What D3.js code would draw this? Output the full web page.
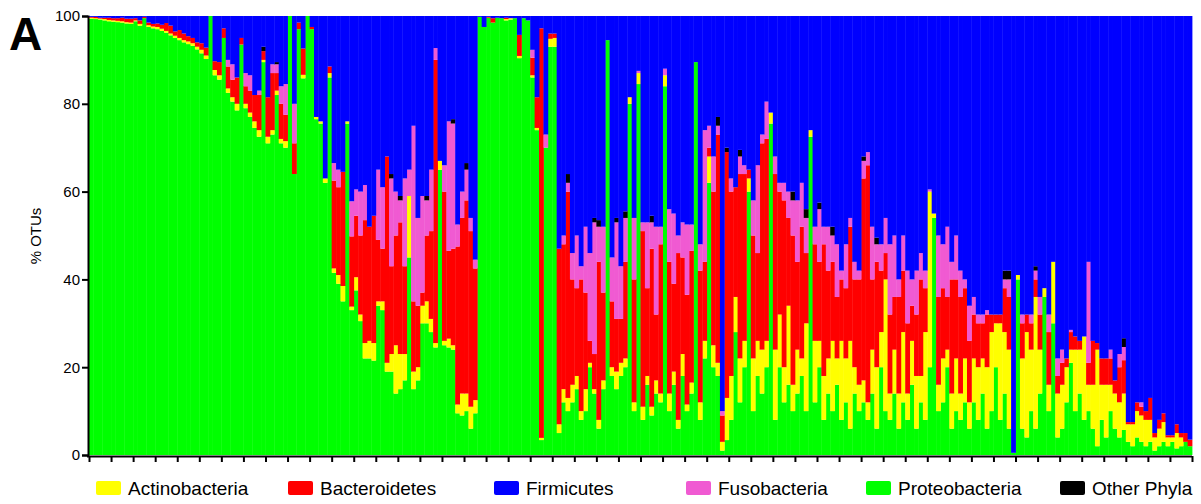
<!DOCTYPE html>
<html><head><meta charset="utf-8">
<script src="https://cdn.jsdelivr.net/npm/d3@7"></script>
<style>body{margin:0;background:#fff}svg text{font-family:"Liberation Sans",Arial,sans-serif}</style>
</head><body><svg id="c" width="1201" height="504"></svg>
<script>
const proteobacteria = [
99.4,99.3,99.2,99,98.8,98.7,98.6,98.5,98.3,98.2,
98.8,97.8,99.5,97.5,97.2,97,96.6,96.2,95.6,95,
94.5,94,93.6,93.2,92.4,91.5,90.2,100,86.5,85.5,
95,82.5,80.5,78.5,93.5,79,77,74.5,72.5,89.5,
71,73,82,71,70,100,64,97,85.8,100,
97,76.5,75.5,62,86,41.5,39,35,75.5,33,
37.5,30.5,22,22,21.5,34,33,19,19,14,
15,17,45,15,17,30,30,28,24.5,65,
25,24.5,24,9.5,9,10,6,9.5,99.8,97.5,
99.6,98.5,99.6,99.5,99,99.2,99.5,90.4,99.5,99,
86,74,3.4,70,93,93,5,12,10,12,
15,8,10,20,14,6,15,94.5,18,15,
18,20,80,10,84.5,8,16,9,14,12,
84,10,16,6,18,10,14,89.5,8,22,
62,20,18,1,3.4,8,28,12,20,60,
10,18,14,20,75.5,8,20,12,16,10,
14,18,10,72.5,12,20,8,14,10,16,
8,12,6,14,10,12,8,14,6,20,
10,8,14,6,12,8,16,6,12,8,
20,54,10,12,20,6,10,8,12,6,
12,8,14,6,10,20,8,14,6,0.5,
40,6,4,10,6,14,36,10,30,4,
6,12,21,10,14,8,10,6,2,8,
4,10,6,4,5.7,3,2,4,3,2,
3,1,2,3,2,3,1.5,2,3,2];
const actinobacteria = [
.2,.2,.2,.3,.3,.3,.3,.3,.3,.3,
.2,.4,0,.4,.4,.5,.5,.4,.4,.5,
.5,.5,.6,.6,.6,.8,.8,0,1.2,1,
0,1,1,1.5,0,1,1,1.5,1.5,.5,
1.5,1,1,1,1.5,0,0,0,.8,0,
0,.5,.5,1,1,1,2,3.5,.5,.8,
3,1.5,3.5,4,4,1,2,2,4,11,
8,6,14,4,3,4,5,3,1,2,
1,2,1,2,5,4,5,3,0,0,
0,0,0,0,.3,.3,0,.5,0,0,
.5,.5,.5,0,1.8,2,2,3,3,4,
3,2,5,1,1,2,2,0,2,4,
3,2,1.5,2,2.5,3,2,2,3,2,
2.5,4,3,2,5,1.5,2.5,0,4,4,
6,5,3,2,9.6,10,8,10,6,3,
12,8,10,6,2.5,16,12,8,18,6,
10,4,20,1.5,14,6,10,8,16,6,
18,10,20,6,6,5,4,10,14,8,
30,6,10,8,16,6,10,12,6,20,
40,1,6,10,4,8,12,6,10,6,
10,12,8,14,18,10,22,14,18,0,
1,16,24,14,30,10,2,6,14,10,
10,8,3,14,10,19,6,10,22,8,
12,6,8,8,8.3,4,5,6,6,6,
5,3,4,4.5,2,1,3.5,2,0,0];
const bacteroidetes = [
.2,.3,.2,.3,.5,.5,.6,.8,.8,.9,
.5,.8,.3,.6,.6,.8,.9,1.8,1.8,1,
1.8,1.5,1.2,1.2,1,1.5,1.8,0,2,3,
2.2,5,4,6,1.5,4,5,6,8,2,
9,13,4,8,6,0,7,1.5,6,0,
.5,0,0,0,1.5,20,20,26,0,16,
14,18,28,26,29,14,12,47,20,25,
30,20,0,16,14,3,15,20,64.5,0,
34,20,22,36,40,44,40,30,0,0,
.2,1,0,0,.3,0,0,4.8,0,0,
4,7,93.3,0,1.2,1,40,33,47,24,
20,30,22,5,8,36,20,0,15,12,
10,22,0,28,0,40,20,36,15,34,
0,30,20,38,22,25,30,0,30,18,
2,35,52,6,56,42,25,42,38,2,
28,20,47,46,0,40,28,38,20,34,
20,30,16,0,22,18,30,20,18,14,
14,16,26,20,24,46,54,16,24,14,
6,18,12,22,14,16,8,14,22,10,
0,0,20,16,12,26,18,22,16,14,
10,10,8,12,4,2,2,10,12,0,
0,8,4,6,4,8,0,12,0,4,
5,2,4,3,2,0,5,10,1.5,6,
6,6,3,8,7.6,.5,.5,2,2,2,
5,1,2,2,.5,.5,2,1,2,1.5];
const fusobacteria = [
0,0,0,0,0,0,0,0,0,0,
0,0,0,0,0,0,0,0,0,0,
0,0,0,0,0,0,0,0,0,0,
0,1.5,3.5,0,0,3,3.5,0,1,0,
0,2,2,4,7,0,9,0,0,0,
0,0,0,0,0,4,4,0,0,8,
6,10,8,0,0,16,14,0,20,10,
5,20,6,40,20,22,8,14,2.7,0,
6,29.5,28.5,5,6,7,3,2,0,0,
0,0,0,0,0,0,0,0,0,0,
1.8,0,0,3,0,0,0,2,2,6,
12,3,15,20,30,8,15,0,10,22,
12,10,0,14,.5,2,15,6,20,4,
1.5,12,16,4,8,16,6,0,6,30,
5,8,2,1,0,3,0,4,2,0,
8,20,2,8.5,0,4,2,4,6,8,
14,10,8,0,4,12,4,10,6,12,
2,10,2,4,2,4,3,12,4,6,
8,16,14,4,8,12,6,10,6,4,
.5,0,14,10,16,4,10,6,2,8,
4,2,2,1,0,0,0,2,4,0,
0,2,0,2,2,4,0,4,0,4,
3,0,.5,0,0,0,23,0,0,0,
0,2,0,3,3,0,0,0,1,0,
0,0,0,0,0,0,0,0,0,0];
const otherPhyla = [
0,0,0,0,0,0,0,0,0,0,
0,0,0,0,0,0,0,0,0,0,
0,0,0,0,0,0,0,0,0,0,
0,0,0,0,0,0,0,0,0,1,
0,0,.5,0,0,0,0,0,0,0,
0,0,0,0,0,0,0,0,0,0,
0,0,0,0,0,0,0,0,1,0,
1,0,0,0,0,0,1,0,0,0,
0,0,1,0,0,1.5,0,0,0,0,
0,0,0,0,0,0,0,0,0,0,
0,0,0,0,0,0,0,0,2,0,
0,0,0,0,1,1.5,0,0,0,1,
0,1.5,0,0,0,0,0,1.5,0,0,
0,0,0,0,0,0,0,0,0,0,
0,0,2,0,1,0,0,1.5,0,0,
0,0,0,0,0,0,0,0,0,2,
0,0,2,0,0,1.5,0,0,2,0,
0,0,0,0,0,1,0,0,1.5,0,
0,0,0,0,0,0,0,0,0,0,
0,0,0,0,0,0,0,0,0,0,
0,0,0,0,0,0,0,2,2,0,
0,0,0,0,1,0,0,0,0,0,
0,0,0,0,0,0,0,0,0,0,
0,0,0,0,2,0,0,0,0,0,
0,0,0,0,0,0,0,0,0,0];
const firmicutes = [
.2,.2,.4,.4,.4,.5,.5,.4,.6,.6,
.5,1,.2,1.5,1.8,1.7,2,1.6,2.2,3.5,
3.2,4,4.6,5,6,6.2,7.2,0,10.3,10.5,
2.8,10,11,14,5,13,13.5,18,17,7,
18.5,11,10.5,16,15.5,0,20,1.5,7.4,0,
2.5,23,24,37,11.5,33.5,35,35.5,24,42.2,
39.5,40,38.5,48,45.5,35,39,32,36,40,
41,37,35,25,46,41,41,35,7.3,33,
34,24,23.5,47.5,40,33.5,46,55.5,.2,2.5,
.2,.5,.4,.5,.4,.5,.5,4.3,.5,1,
7.7,18.5,2.8,27,4,4,53,50,36,54,
50,57,48,54,46,46.5,48,5.5,55,46,
57,44.5,18.5,46,12.5,47,47,45.5,48,48,
12,44,45,50,47,47.5,47.5,10.5,52,26,
25,32,23,90,30,37,39,30.5,34,35,
42,34,27,19.5,22,32,38,38,40,40,
42,38,44,26,48,42.5,48,48,48,52,
58,52,46,56,58,32,31,48,50.5,52,
46,52,50,60,50,58,60,58,54,58,
39.5,45,50,52,48,56,50,58,60,66,
64,68,68,67,68,68,68,58,58,99.5,
59,68,68,68,57,64,62,68,56,78,
76,78,71.5,73,74,73,56,74,74.5,78,
78,76,83,77,73.4,92.5,92.5,88,88,90,
87,95,92,90.5,95.5,95.5,93,95,95,96.5];

const yTicks = [0,20,40,60,80,100];
const legendLabels = ["Actinobacteria","Bacteroidetes","Firmicutes","Fusobacteria","Proteobacteria","Other Phyla"];
const stackKeys = ["Proteobacteria","Actinobacteria","Bacteroidetes","Fusobacteria","Other Phyla","Firmicutes"];
const colors = {"Actinobacteria":"#ffff00","Bacteroidetes":"#ff0000","Firmicutes":"#0000ff","Fusobacteria":"#f05ad2","Proteobacteria":"#00ff00","Other Phyla":"#000000"};

const seriesArrays = {"Proteobacteria":proteobacteria,"Actinobacteria":actinobacteria,"Bacteroidetes":bacteroidetes,"Fusobacteria":fusobacteria,"Other Phyla":otherPhyla,"Firmicutes":firmicutes};
const N = proteobacteria.length;
const samples = proteobacteria.map((_, i) => i);
const table = samples.map(i => { const o = {sample:i}; stackKeys.forEach(k => o[k] = seriesArrays[k][i]); return o; });

const svg = d3.select("#c");
const L = 89, R = 1192, T = 16, B = 455;
const x = d3.scaleBand().domain(samples).range([L, R]).padding(0);
const xl = d3.scaleLinear().domain([0, N]).range([L, R]);
const y = d3.scaleLinear().domain([0, 100]).range([B, T]);

const stacked = d3.stack().keys(stackKeys)(table);
svg.append("g").selectAll("g").data(stacked).join("g")
  .attr("fill", d => colors[d.key])
  .selectAll("rect").data(d => d).join("rect")
  .attr("x", d => x(d.data.sample))
  .attr("width", x.bandwidth() + 0.4)
  .attr("y", d => y(Math.min(100, d[1])))
  .attr("height", d => Math.max(0, y(d[0]) - y(Math.min(100, d[1]))));

// axes
const yAxis = svg.append("g").attr("transform", `translate(${L-1},0)`)
  .call(d3.axisLeft(y).tickValues(yTicks).tickSize(6).tickPadding(2));
yAxis.select(".domain").attr("stroke-width", 2);
yAxis.selectAll(".tick line").attr("stroke-width", 2);
yAxis.selectAll("text").attr("font-size", 15).attr("fill", "#000");

const xAxis = svg.append("g").attr("transform", `translate(0,${B+1})`)
  .call(d3.axisBottom(xl).tickValues(d3.range(0, N + 1, 5)).tickSize(6).tickFormat(""));
xAxis.select(".domain").attr("stroke-width", 2).attr("d", `M${L-2},0.5H${R}`);
xAxis.selectAll(".tick line").attr("stroke-width", 2);

svg.append("text").attr("transform", "translate(41,236) rotate(-90)")
  .attr("text-anchor", "middle").attr("font-size", 15).text("% OTUs");
svg.append("text").attr("x", 9).attr("y", 50).attr("font-size", 46).attr("font-weight", "bold").text("A");

const legendX = [96, 288, 494, 686, 866, 1060];
const lg = svg.append("g");
legendLabels.forEach((k, i) => {
  lg.append("rect").attr("x", legendX[i]).attr("y", 481).attr("width", 25).attr("height", 14).attr("rx", 2).attr("fill", colors[k]);
  lg.append("text").attr("x", legendX[i] + 32).attr("y", 495).attr("font-size", 19).text(k);
});
</script></body></html>
